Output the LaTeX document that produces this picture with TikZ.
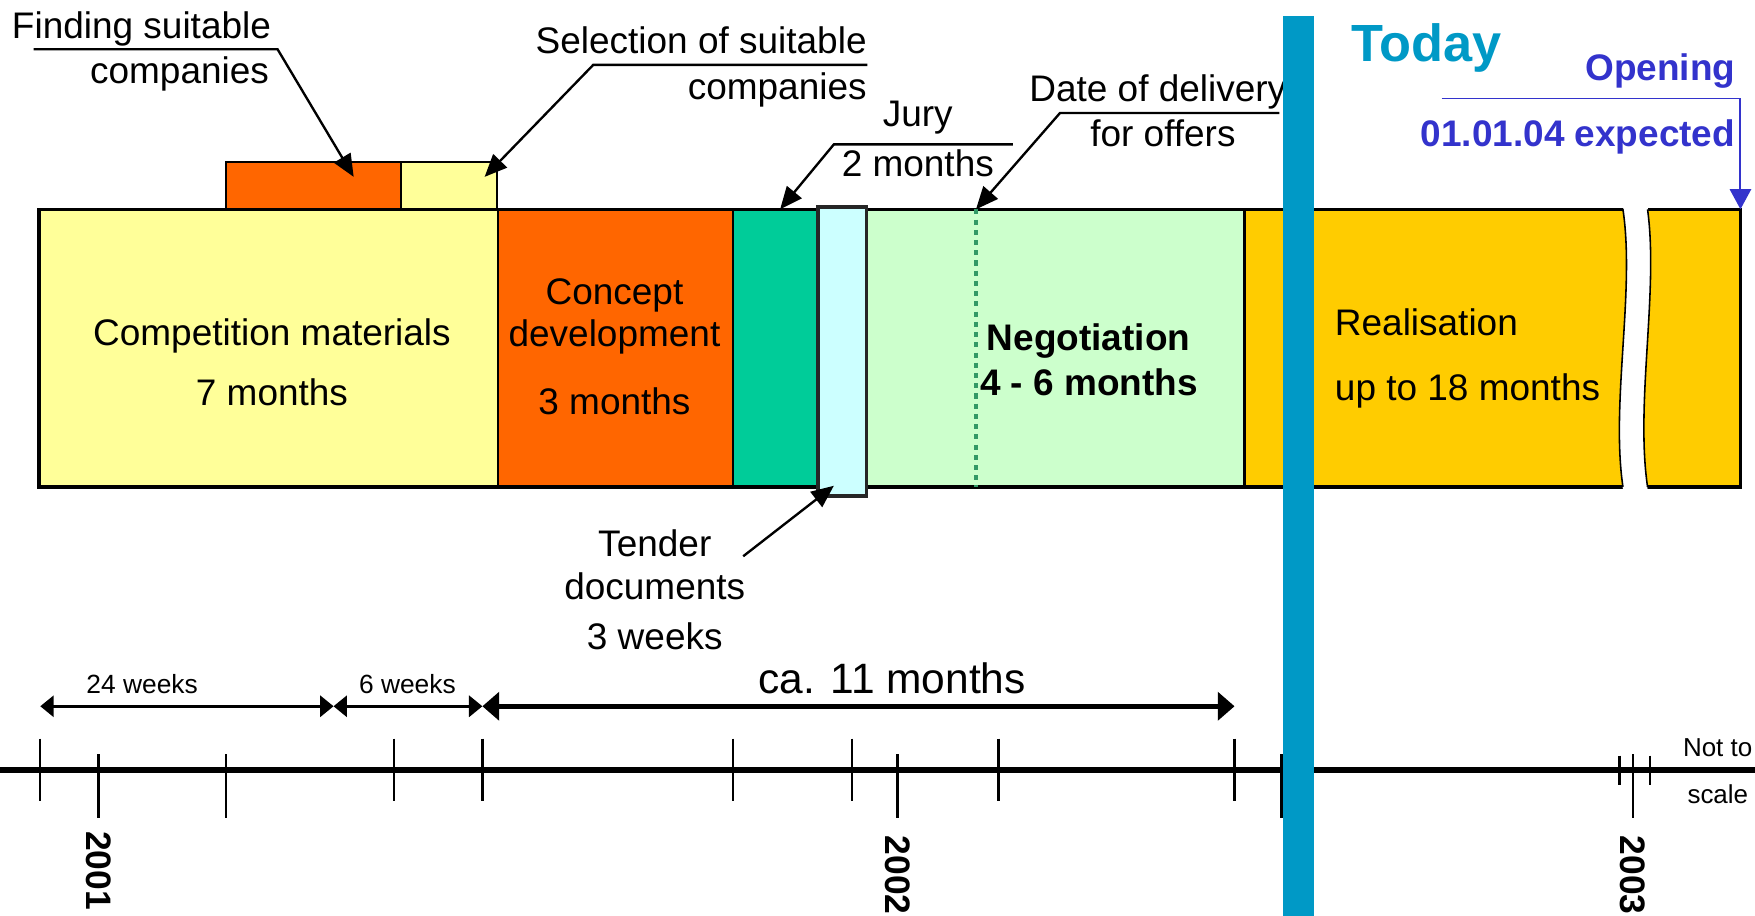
\documentclass[tikz,border=0pt]{standalone}
\usepackage{fontspec}
\setmainfont{Liberation Sans}
\usetikzlibrary{arrows.meta}

\definecolor{paleyellow}{HTML}{FFFF99}
\definecolor{orng}{HTML}{FF6600}
\definecolor{jurygreen}{HTML}{00CC99}
\definecolor{palecyan}{HTML}{CCFFFF}
\definecolor{palegreen}{HTML}{CCFFCC}
\definecolor{gold}{HTML}{FFCC00}
\definecolor{todayblue}{HTML}{0099C6}
\definecolor{openblue}{HTML}{3333CC}
\definecolor{dotgreen}{HTML}{339966}

\begin{document}
\begin{tikzpicture}[x=0.1mm,y=-0.1mm,
  phase/.style={draw=black,line width=0.6pt,inner sep=0pt,outer sep=0pt,minimum height=24.8mm},
  topbox/.style={draw=black,line width=0.6pt,inner sep=0pt,outer sep=0pt,minimum height=4.2mm},
  lbl/.style={inner sep=0pt,font=\fontsize{9.4}{11}\selectfont},
  boldlbl/.style={inner sep=0pt,font=\fontsize{9.4}{11}\selectfont\bfseries},
  smalllbl/.style={inner sep=0pt,font=\fontsize{6.7}{8}\selectfont},
  yearlbl/.style={inner sep=0pt,font=\fontsize{9}{10}\selectfont\bfseries,rotate=-90,anchor=west},
  callout/.style={line width=0.6pt,-{Triangle[length=2mm,width=1.7mm]}},
  dimthin/.style={line width=0.65pt,{Triangle[length=1.2mm,width=1.9mm]}-{Triangle[length=1.2mm,width=1.9mm]}},
  dimthick/.style={line width=1.15pt,{Triangle[length=1.5mm,width=2.5mm]}-{Triangle[length=1.5mm,width=2.5mm]}},
  tickmark/.style={line width=0.6pt},
]
\useasboundingbox (0,0) rectangle (1568,818);

% ---- small boxes above the first phase
\node[topbox,fill=orng,minimum width=15.6mm] (findbox) at (280,166) {};
\node[topbox,fill=paleyellow,minimum width=8.6mm] (selbox) at (401,166) {};

% ---- phase bars
\node[phase,fill=paleyellow,minimum width=41mm] (comp) at (240,311) {};
\node[phase,fill=orng,minimum width=21mm] (concept) at (550,311) {};
\node[phase,fill=jurygreen,minimum width=7.6mm] (jury) at (693,311) {};
\node[phase,fill=palegreen,minimum width=38.1mm] (nego) at (921.5,311) {};
\node[phase,fill=gold,minimum width=44.3mm] (real) at (1333.5,311) {};
\draw[line width=0.9pt] (comp.north west) rectangle (real.south east);

% delivery date inside the negotiation phase
\coordinate (deliv) at (872,187);
\draw[dotgreen,line width=0.8pt,dash pattern=on 1.3pt off 1.3pt] (deliv) -- (deliv |- nego.south);

% wavy break in the realisation bar
\fill[white] (1450,184) .. controls (1461,260) and (1439,360) .. (1450,437)
  -- (1472,437) .. controls (1461,360) and (1482,260) .. (1472,184) -- cycle;
\draw[line width=0.4pt] (1450,187) .. controls (1461,260) and (1439,360) .. (1450,435);
\draw[line width=0.4pt] (1472,187) .. controls (1482,260) and (1461,360) .. (1472,435);

% tender documents
\node[draw=black!85,line width=0.9pt,fill=palecyan,inner sep=0pt,minimum width=4.3mm,minimum height=25.8mm] (tender) at (752.5,314) {};

% ---- texts inside the bars
\node[lbl,anchor=base] (comp1) at (243,309) {Competition materials};
\node[lbl,anchor=base] (comp2) at (243,362) {7 months};
\node[lbl,anchor=base] (conc1) at (549,272) {Concept};
\node[lbl,anchor=base] (conc2) at (549,310) {development};
\node[lbl,anchor=base] (conc3) at (549,370) {3 months};
\node[boldlbl,anchor=base west] (nego1) at (881,313) {Negotiation};
\node[boldlbl,anchor=base west] (nego2) at (875,353) {4 - 6 months};
\node[lbl,anchor=base west] (real1) at (1192,300) {Realisation};
\node[lbl,anchor=base west] (real2) at (1192,358) {up to 18 months};

% ---- callouts
\node[lbl,anchor=base west] (find1) at (10,34) {Finding suitable};
\node[lbl,anchor=base east] (find2) at (241,75) {companies};
\coordinate (findL) at (30,44);
\coordinate (findR) at (248,44);
\coordinate (findT) at (316,158);
\draw[callout] (findL) -- (findR) -- (findT);

\node[lbl,anchor=base east] (sel1) at (775,48) {Selection of suitable};
\node[lbl,anchor=base east] (sel2) at (775,89) {companies};
\coordinate (selR) at (775,58);
\coordinate (selL) at (530,58);
\coordinate (selT) at (433,158);
\draw[callout] (selR) -- (selL) -- (selT);

\node[lbl,anchor=base] (jury1) at (820,113) {Jury};
\node[lbl,anchor=base] (jury2) at (820,158) {2 months};
\coordinate (juryR) at (905,129);
\coordinate (juryL) at (745,129);
\coordinate (juryT) at (697,187);
\draw[callout] (juryR) -- (juryL) -- (juryT);

\node[lbl,anchor=base west] (date1) at (919,91) {Date of delivery};
\node[lbl,anchor=base] (date2) at (1039,131) {for offers};
\coordinate (dateR) at (1143,101);
\coordinate (dateL) at (947,101);
\draw[callout] (dateR) -- (dateL) -- (deliv);

\node[lbl,anchor=base] (tend1) at (585,497) {Tender};
\node[lbl,anchor=base] (tend2) at (585,536) {documents};
\node[lbl,anchor=base] (tend3) at (585,580) {3 weeks};
\coordinate (tendS) at (664,497);
\coordinate (tendT) at (745,434);
\draw[callout] (tendS) -- (tendT);

% ---- opening
\node[boldlbl,text=openblue,anchor=base east] (open1) at (1551,72) {Opening};
\node[boldlbl,text=openblue,anchor=base east] (open2) at (1551,131) {01.01.04 expected};
\coordinate (openL) at (1288,88);
\coordinate (openR) at (1555,88);
\coordinate (openT) at (1555,187);
\draw[openblue,line width=0.5pt,-{Triangle[length=1.8mm,width=1.9mm]}] (openL) -- (openR) -- (openT);

% ---- durations
\coordinate (d0) at (36,631);
\coordinate (d1) at (298,631);
\coordinate (d2) at (431,631);
\coordinate (d3) at (1103,631);
\draw[dimthin] (d0) -- (d1);
\draw[dimthin] (d1) -- (d2);
\draw[dimthick] (d2) -- (d3);
\node[smalllbl,anchor=base] (w24) at (127,620) {24 weeks};
\node[smalllbl,anchor=base] (w6) at (364,620) {6 weeks};
\node[inner sep=0pt,font=\fontsize{10.8}{12}\selectfont,anchor=base] (m11) at (797,620) {ca. 11 months};

% ---- time axis
\coordinate (axL) at (0,688);
\coordinate (axR) at (1568,688);
\draw[line width=1.7pt] (axL) -- (axR);
\foreach \x in {36,352,431,655,761,892,1103}
  \draw[tickmark] (\x,660) -- (\x,716);
\foreach \x in {88,202,802,1145,1459}
  \draw[tickmark] (\x,674) -- (\x,731);
\foreach \x in {1447,1474}
  \draw[tickmark] (\x,675) -- (\x,701);
\node[yearlbl] (y2001) at (88,742) {2001};
\node[yearlbl] (y2002) at (802,746) {2002};
\node[yearlbl] (y2003) at (1459,746) {2003};
\node[inner sep=0pt,font=\fontsize{6.6}{8}\selectfont,anchor=base west] (nts1) at (1503,676) {Not to};
\node[inner sep=0pt,font=\fontsize{6.6}{8}\selectfont,anchor=base west] (nts2) at (1507,718) {scale};

% ---- today marker
\node[fill=todayblue,inner sep=0pt,outer sep=0pt,minimum width=2.8mm,minimum height=80.8mm] (todaybar) at (1160,418) {};
\node[inner sep=0pt,font=\fontsize{13.3}{15}\selectfont\bfseries,text=todayblue,anchor=base west] (today) at (1207,55) {Today};
\end{tikzpicture}
\end{document}
